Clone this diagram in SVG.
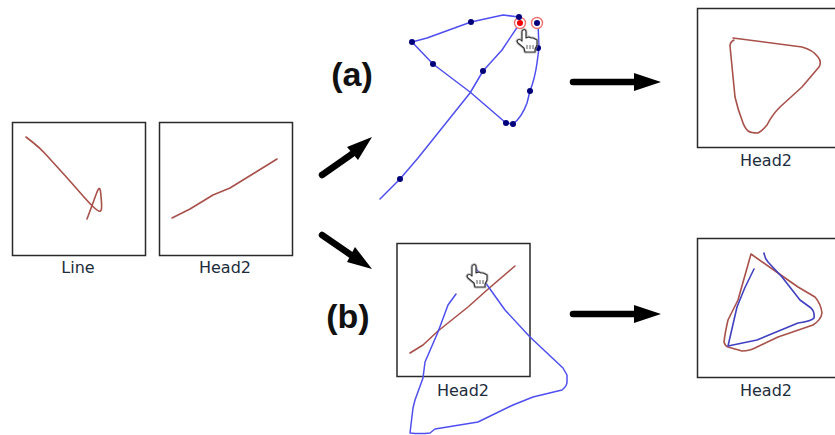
<svg xmlns="http://www.w3.org/2000/svg" width="835" height="435" viewBox="0 0 835 435">
<style>
.frame{fill:#fff;stroke:#2a2a2a;stroke-width:1.5}
.red{fill:none;stroke:#a8504a;stroke-width:1.6;stroke-linejoin:round;stroke-linecap:round}
.blue{fill:none;stroke:#4f4ff0;stroke-width:1.5;stroke-linejoin:round;stroke-linecap:round}
.navy{fill:none;stroke:#4040c0;stroke-width:1.6;stroke-linejoin:round;stroke-linecap:round}
.cap{font-family:"DejaVu Sans",sans-serif;font-size:16px;fill:#1c2c3c;text-anchor:middle}
.tag{font-family:"Liberation Sans",Arial,sans-serif;font-size:34px;font-weight:bold;fill:#111;text-anchor:middle}
.dot{fill:#00007a}
.ring{fill:#fff;stroke:#f07070;stroke-width:1.4}
.arrow{fill:none;stroke:#000;stroke-width:6.500;stroke-linecap:round}
.head{fill:#000}
.halo{fill:none;stroke:#999;stroke-width:3;stroke-linejoin:round;opacity:.6}
.hand{fill:#fff;stroke:#333;stroke-width:1.2;stroke-linejoin:round}
.grip{fill:none;stroke:#333;stroke-width:.8}
</style>
<defs>
<path id="handshape" d="M-4 -11 C-2 -12 -1 -11 -1 -9 L-1 -3 L2 -4 L4 -3 L6 -3 L8 -2 L10 -1 L10 4 L8 8 L8 11 L-2 11 L-3 7 L-9 2 L-10 0 C-9 -2 -7 -2 -5 0 L-5 -9 C-5 -10 -5 -11 -4 -11Z"/>
<g id="hand">
<use href="#handshape" class="halo"/>
<use href="#handshape" class="hand"/>
<path class="grip" d="M0 4V8M3 4V8M6 4V8"/>
</g>
</defs>
<g id="connectors">
<path class="arrow" d="M322 175L352 154"/><path class="head" d="M372 137L347 147L358 160Z"/>
<path class="arrow" d="M322 235L351 255"/><path class="head" d="M372 269L355 247L347 262Z"/>
<path class="arrow" d="M573 82H638"/><path class="head" d="M661 82L634 73V91Z"/>
<path class="arrow" d="M573 314H638"/><path class="head" d="M661 314L634 305V323Z"/>
</g>
<g id="node-line">
<rect class="frame" x="12.500" y="122.500" width="133" height="133"/>
<path class="red" d="M26 137L33 142.500Q40 148 45 153.500Q50 159 60 170Q70 181 80 192.500Q90 204 94.500 208Q99 212 100.500 211Q102 210 101.500 202.500Q101 195 100.500 191.500Q100 188 99 188.500Q98 189 95.500 196Q93 203 87 219"/>
<text class="cap" x="78" y="273">Line</text>
</g>
<g id="node-head2">
<rect class="frame" x="159.500" y="122.500" width="133" height="133"/>
<path class="red" d="M172 218L190 209L213 195L230 188L277 159"/>
<text class="cap" x="225" y="273">Head2</text>
</g>
<g id="node-a-sketch">
<path class="blue" d="M380 199L400 179L418 158L470 93L483 71L502 50L520 23"/>
<path class="blue" d="M519 17L503 15L471 22L427 38L412 42L433 64L470 92L506 123L513 124Q522 117 527 103L530 91Q535 78 537 63L539 48L538 23"/>
<circle class="ring" cx="520" cy="23" r="5.500"/><circle class="ring" cx="537" cy="23" r="5.500"/>
<circle cx="520" cy="23" r="3" fill="#f00000"/><circle class="dot" cx="537" cy="23" r="3"/>
<circle class="dot" cx="519" cy="17" r="3"/><circle class="dot" cx="471" cy="22" r="3"/><circle class="dot" cx="412" cy="42" r="3"/><circle class="dot" cx="433" cy="64" r="3"/><circle class="dot" cx="483" cy="71" r="3"/><circle class="dot" cx="538" cy="48" r="3"/><circle class="dot" cx="530" cy="91" r="3"/><circle class="dot" cx="506" cy="123" r="3"/><circle class="dot" cx="513" cy="124" r="3"/><circle class="dot" cx="400" cy="179" r="3"/>
<use href="#hand" x="527" y="41"/>
</g>
<g id="node-a-result">
<rect class="frame" x="697.500" y="8.500" width="140" height="139"/>
<path class="red" d="M733 38L802 47Q813 50 818 57Q822 62 819 67L802 87L780 107Q772 115 767 125Q762 131 758 133Q751 133 748 131Q744 127 742 120Q738 110 735 97L730 46Q730 42 734 40"/>
<text class="cap" x="766" y="166">Head2</text>
</g>
<g id="node-b-sketch">
<rect class="frame" x="397" y="243.500" width="133" height="133"/>
<path class="red" d="M410 353L423 345L438 331L468 307L487 290L515 266"/>
<path class="blue" d="M456 294L448 305L438 332L425 362L423 378L415 400L413 408L410 433Q420 434 430 433L435 429L478 422L513 405L533 397L562 390Q567 386 567 382L567 375L563 368L530 337L505 310L485 282L475 267"/>
<text class="cap" x="463" y="396">Head2</text>
<use href="#hand" x="477" y="276"/>
</g>
<g id="node-b-result">
<rect class="frame" x="697.500" y="238.500" width="140" height="139"/>
<path class="red" d="M751 254L738 300L728 320Q725 333 724 342Q725 346 728 347L742 351Q750 351 757 347L778 337L813 325Q821 320 822 313Q821 304 815 297L798 287L778 273Z"/>
<path class="navy" d="M764 253Q765 259 768 262L782 277L800 300L811 308Q815 312 814 318Q812 321 798 323L757 340L728 346L737 307Q744 288 754 269"/>
<text class="cap" x="766" y="396">Head2</text>
</g>
<text class="tag" x="352" y="86">(a)</text>
<text class="tag" x="348" y="328">(b)</text>
</svg>
